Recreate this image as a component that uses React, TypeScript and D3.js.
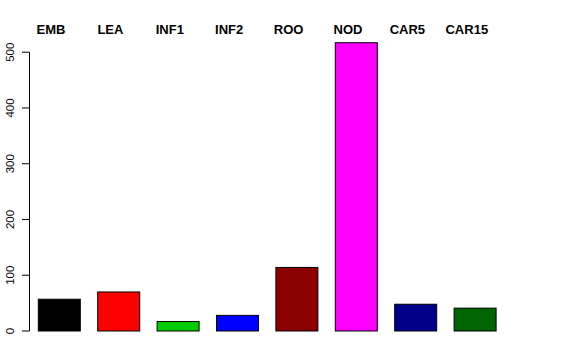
import React from "react";
import * as d3 from "d3";

const categories = ["EMB", "LEA", "INF1", "INF2", "ROO", "NOD", "CAR5", "CAR15"];
const values = [57, 70, 17, 28, 114, 517, 48, 41];
const colors = ["#000000", "#FF0000", "#00CD00", "#0000FF", "#8B0000", "#FF00FF", "#00008B", "#006400"];
const yTicks = [0, 100, 200, 300, 400, 500];

export default function App() {
  const W = 576, H = 360;
  const x = d3.scaleBand<string>().domain(categories).range([29.6, 504.8]).paddingInner(0.293).paddingOuter(0.1465);
  const y = d3.scaleLinear().domain([0, 500]).range([331, 52.2]);
  const font = "'Liberation Sans', Arial, Helvetica, sans-serif";
  return (
    <svg width={W} height={H} style={{ position: "absolute", left: 0, top: 0, background: "#fff" }} fontFamily={font}>
      <rect x={0} y={0} width={W} height={H} fill="#fff" />
      {categories.map((c, i) => (
        <rect key={c} x={x(c)} y={y(values[i])} width={x.bandwidth()} height={y(0) - y(values[i])}
          fill={colors[i]} stroke="#000" strokeWidth={1} />
      ))}
      {categories.map((c) => (
        <text key={"l" + c} x={(x(c) as number) + x.bandwidth() / 2 - 8.3} y={34} textAnchor="middle"
          fontWeight="bold" fontSize={13} fill="#000">{c}</text>
      ))}
      <line x1={29.5} x2={29.5} y1={y(0)} y2={y(500)} stroke="#000" />
      {yTicks.map((t) => (
        <g key={t}>
          <line x1={22} x2={29.5} y1={y(t)} y2={y(t)} stroke="#000" />
          <text transform={`translate(13.5,${y(t)}) rotate(-90)`} textAnchor="middle" fontSize={11.5} fill="#000">{t}</text>
        </g>
      ))}
    </svg>
  );
}
